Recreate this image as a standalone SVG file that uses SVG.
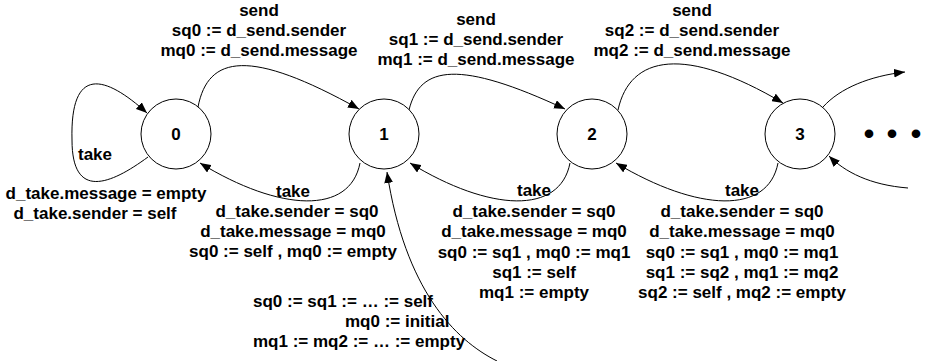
<svg xmlns="http://www.w3.org/2000/svg" width="927" height="361" viewBox="0 0 927 361">
<style>
text { font-family: "Liberation Sans", Arial, sans-serif; font-weight: bold; font-size: 17px; fill: #000; text-anchor: middle; }
.node circle { fill: #fff; stroke: #000; stroke-width: 1; }
.edge { fill: none; stroke: #000; stroke-width: 1; marker-end: url(#arrow); }
.start { text-anchor: start; }
.dot { font-size: 30px; }
</style>
<defs>
<marker id="arrow" viewBox="0 0 10 8" refX="10" refY="4" markerWidth="11" markerHeight="9" markerUnits="userSpaceOnUse" orient="auto">
<path d="M0,0 L10,4 L0,8 z" fill="#000"/>
</marker>
</defs>
<rect width="927" height="361" fill="#fff"/>
<g id="connectors">
<path class="edge" d="M148,157 C110,185 72,200 72,140 C70,65 105,75 147,113"/>
<path class="edge" d="M198,107 C208,55 250,48 359,109"/>
<path class="edge" d="M409,110 C420,65 460,60 565,109"/>
<path class="edge" d="M618,110 C630,55 685,45 783,103"/>
<path class="edge" d="M823,107 C840,88 870,76 905,72"/>
<path class="edge" d="M360,163 C350,215 280,212 200,163"/>
<path class="edge" d="M570,163 C560,215 490,212 410,163"/>
<path class="edge" d="M778,163 C768,215 698,212 616,163"/>
<path class="edge" d="M908,188 C870,185 845,172 829,156"/>
<path class="edge" d="M497,361 C455,340 405,290 387,172"/>
</g>
<g id="node0" class="node"><circle cx="176" cy="134" r="35"/><text x="176" y="140">0</text></g>
<g id="node1" class="node"><circle cx="384" cy="134" r="35"/><text x="384" y="140">1</text></g>
<g id="node2" class="node"><circle cx="592" cy="134" r="35"/><text x="592" y="140">2</text></g>
<g id="node3" class="node"><circle cx="800" cy="134" r="35"/><text x="800" y="140">3</text></g>
<g id="ellipsis">
<text class="dot" x="869" y="144">•</text>
<text class="dot" x="892" y="144">•</text>
<text class="dot" x="916" y="144">•</text>
</g>
<g id="labels">
<text x="259" y="16">send</text>
<text x="259" y="36">sq0 := d_send.sender</text>
<text x="259" y="56">mq0 := d_send.message</text>
<text x="476" y="25">send</text>
<text x="476" y="45">sq1 := d_send.sender</text>
<text x="476" y="65">mq1 := d_send.message</text>
<text x="692" y="16">send</text>
<text x="692" y="36">sq2 := d_send.sender</text>
<text x="692" y="56">mq2 := d_send.message</text>
<text class="start" x="78" y="160">take</text>
<text x="106" y="199">d_take.message = empty</text>
<text x="95" y="219">d_take.sender = self</text>
<text x="293" y="197">take</text>
<text x="297" y="217">d_take.sender = sq0</text>
<text x="293" y="237">d_take.message = mq0</text>
<text x="293" y="257">sq0 := self , mq0 := empty</text>
<text x="534" y="196">take</text>
<text x="534" y="217">d_take.sender = sq0</text>
<text x="534" y="237">d_take.message = mq0</text>
<text x="534" y="258">sq0 := sq1 , mq0 := mq1</text>
<text x="534" y="278">sq1 := self</text>
<text x="534" y="298">mq1 := empty</text>
<text x="742" y="196">take</text>
<text x="742" y="217">d_take.sender = sq0</text>
<text x="742" y="237">d_take.message = mq0</text>
<text x="742" y="258">sq0 := sq1 , mq0 := mq1</text>
<text x="742" y="278">sq1 := sq2 , mq1 := mq2</text>
<text x="742" y="298">sq2 := self , mq2 := empty</text>
<text class="start" x="253" y="307">sq0 := sq1 := … := self</text>
<text class="start" x="345" y="327">mq0 := initial</text>
<text class="start" x="253" y="347">mq1 := mq2 := … := empty</text>
</g>
</svg>
